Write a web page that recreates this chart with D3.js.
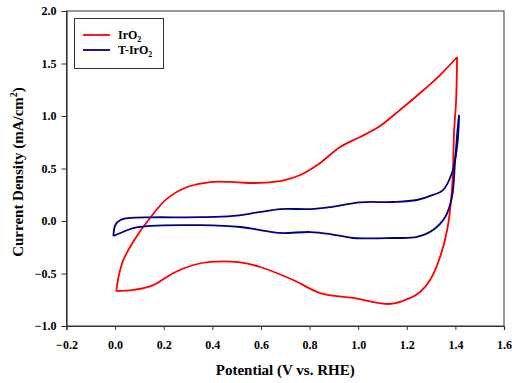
<!DOCTYPE html>
<html>
<head>
<meta charset="utf-8">
<script src="https://cdn.jsdelivr.net/npm/d3@7"></script>
<style>
  body { margin: 0; background: #fff; }
  text { font-family: "Liberation Serif", "Times New Roman", serif; font-weight: bold; fill: #000; }
</style>
</head>
<body>
<svg id="chart" width="512" height="383"></svg>
<script>
// CV data: [potential V, current mA/cm2]
const iro2Fwd = [
  [0.005, -0.667], [0.014, -0.533], [0.034, -0.371], [0.075, -0.195], [0.145, 0.033],
  [0.215, 0.215], [0.297, 0.324], [0.392, 0.371], [0.47, 0.372], [0.55, 0.362],
  [0.62, 0.366], [0.69, 0.385], [0.762, 0.438], [0.832, 0.533], [0.926, 0.705],
  [1.008, 0.8], [1.09, 0.905], [1.172, 1.057], [1.255, 1.219], [1.337, 1.39],
  [1.407, 1.562]
];
const iro2Rev = [
  [1.407, 1.562], [1.403, 1.152], [1.395, 0.867], [1.386, 0.295], [1.366, -0.086],
  [1.337, -0.343], [1.296, -0.562], [1.255, -0.676], [1.214, -0.733], [1.132, -0.79],
  [0.98, -0.733], [0.844, -0.686], [0.733, -0.562], [0.597, -0.438], [0.515, -0.395],
  [0.392, -0.39], [0.322, -0.419], [0.24, -0.495], [0.157, -0.61], [0.075, -0.657],
  [0.005, -0.667]
];
const tIro2Fwd = [
  [-0.007, -0.143], [0.001, -0.038], [0.022, 0.01], [0.063, 0.029], [0.145, 0.035],
  [0.351, 0.036], [0.486, 0.048], [0.597, 0.086], [0.679, 0.114], [0.803, 0.114],
  [0.885, 0.133], [1.008, 0.178], [1.144, 0.181], [1.242, 0.2], [1.308, 0.248],
  [1.349, 0.295], [1.386, 0.457], [1.407, 0.705], [1.415, 1.01]
];
const tIro2Rev = [
  [1.415, 1.01], [1.407, 0.819], [1.399, 0.581], [1.386, 0.229], [1.358, 0.038],
  [1.308, -0.086], [1.242, -0.152], [1.144, -0.162], [0.98, -0.162], [0.885, -0.124],
  [0.803, -0.105], [0.679, -0.114], [0.597, -0.086], [0.515, -0.057], [0.351, -0.04],
  [0.145, -0.046], [0.075, -0.067], [0.022, -0.114], [-0.007, -0.143]
];

const xTicks = [-0.2, 0, 0.2, 0.4, 0.6, 0.8, 1.0, 1.2, 1.4, 1.6];
const yTicks = [-1.0, -0.5, 0, 0.5, 1.0, 1.5, 2.0];

const series = [
  { name: "IrO", sub: "2", pre: "", color: "#ff0000", parts: [iro2Fwd, iro2Rev] },
  { name: "IrO", sub: "2", pre: "T-", color: "#000080", parts: [tIro2Fwd, tIro2Rev] }
];

const svg = d3.select("#chart");
const pLeft = 66.5, pRight = 504, pTop = 11, pBottom = 326;

const x = d3.scaleLinear().domain([-0.2, 1.6]).range([pLeft, pRight]);
const y = d3.scaleLinear().domain([-1, 2]).range([pBottom, pTop]);

// frame
svg.append("rect")
  .attr("x", pLeft).attr("y", pTop)
  .attr("width", pRight - pLeft).attr("height", pBottom - pTop)
  .attr("fill", "none").attr("stroke", "#333").attr("stroke-width", 1);

const fmt = d3.format(".1f");

svg.append("g")
  .attr("transform", `translate(0,${pBottom})`)
  .call(d3.axisBottom(x).tickValues(xTicks).tickFormat(fmt).tickSize(4).tickPadding(10));

svg.append("g")
  .attr("transform", `translate(${pLeft},0)`)
  .call(d3.axisLeft(y).tickValues(yTicks).tickFormat(fmt).tickSize(5).tickPadding(5));

svg.selectAll(".domain").attr("stroke", "#333").attr("stroke-width", 1.2);
svg.selectAll(".tick line").attr("stroke", "#333");
svg.selectAll(".tick text")
  .style("font-family", "'Liberation Serif', serif")
  .style("font-weight", "bold")
  .style("font-size", "12px")
  .attr("fill", "#000");

// axis titles
svg.append("text")
  .attr("x", (pLeft + pRight) / 2).attr("y", 375)
  .attr("text-anchor", "middle")
  .style("font-size", "15px")
  .text("Potential (V vs. RHE)");

const yt = svg.append("text")
  .attr("transform", "translate(23,172) rotate(-90)")
  .attr("text-anchor", "middle")
  .style("font-size", "15px");
yt.append("tspan").text("Current Density (mA/cm");
yt.append("tspan").attr("dy", -6).style("font-size", "10px").text("2");
yt.append("tspan").attr("dy", 6).text(")");

// curves
const line = d3.line()
  .x(d => x(d[0]))
  .y(d => y(d[1]))
  .curve(d3.curveCatmullRom.alpha(0.5));

series.forEach(s => {
  s.parts.forEach(p => {
    svg.append("path")
      .datum(p)
      .attr("d", line)
      .attr("fill", "none")
      .attr("stroke", s.color)
      .attr("stroke-width", 1.8)
      .attr("stroke-linejoin", "miter");
  });
});

// legend
const lg = svg.append("g");
lg.append("rect")
  .attr("x", 74.5).attr("y", 18.5)
  .attr("width", 89).attr("height", 50)
  .attr("fill", "#fff").attr("stroke", "#333").attr("stroke-width", 1);

series.forEach((s, i) => {
  const ly = 35 + i * 15;
  lg.append("line")
    .attr("x1", 83).attr("x2", 110)
    .attr("y1", ly).attr("y2", ly)
    .attr("stroke", s.color).attr("stroke-width", 1.8);
  const t = lg.append("text")
    .attr("x", 118).attr("y", ly + 4)
    .style("font-size", "12px");
  t.append("tspan").text(s.pre + s.name);
  t.append("tspan").attr("dy", 3).style("font-size", "8px").text(s.sub);
});
</script>
</body>
</html>
